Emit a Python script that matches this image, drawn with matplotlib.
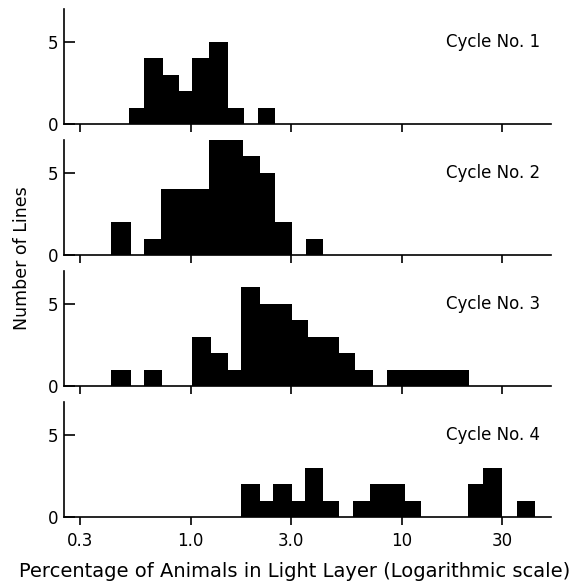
import numpy as np
import matplotlib
matplotlib.use("Agg")
import matplotlib.pyplot as plt

plt.rcParams['font.family'] = ['DejaVu Sans']

# bin edges (percentage, log scale) and number of lines per bin
edges1 = [0.51, 0.60, 0.74, 0.88, 1.02, 1.22, 1.50, 1.79, 2.09, 2.51]
counts1 = [1, 4, 3, 2, 4, 5, 1, 0, 1]

edges2 = [0.42, 0.52, 0.60, 0.72, 1.22, 1.78, 2.13, 2.51, 3.01, 3.51, 4.25]
counts2 = [2, 0, 1, 4, 7, 6, 5, 2, 0, 1]

edges3 = [0.42, 0.52, 0.60, 0.73, 1.02, 1.25, 1.50, 1.73, 2.13, 3.01, 3.59,
          5.06, 6.01, 7.34, 8.49, 20.9]
counts3 = [1, 0, 1, 0, 3, 2, 1, 6, 5, 4, 3, 2, 1, 0, 1]

edges4 = [1.73, 2.13, 2.46, 3.01, 3.48, 4.25, 5.06, 5.90, 7.08, 10.4, 12.3,
          20.7, 24.4, 29.8, 35.1, 42.8]
counts4 = [2, 1, 2, 1, 3, 1, 0, 1, 2, 1, 0, 2, 3, 0, 1]

titles = ['Cycle No. 1', 'Cycle No. 2', 'Cycle No. 3', 'Cycle No. 4']
xticks = [0.3, 1.0, 3.0, 10, 30]
xticklabels = ['0.3', '1.0', '3.0', '10', '30']

panels = [(edges1, counts1), (edges2, counts2), (edges3, counts3), (edges4, counts4)]

W, H = 587, 584
fig = plt.figure(figsize=(W / 100, H / 100), dpi=100)

left_px, right_px = 64.3, 551
baselines = [124, 255, 386, 517]
height_px = 115

for i, (edges, counts) in enumerate(panels):
    ax = fig.add_axes([left_px / W, 1 - baselines[i] / H,
                       (right_px - left_px) / W, height_px / H])
    ax.stairs(counts, edges, fill=True, color='black', baseline=0)
    ax.set_xscale('log')
    ax.set_xlim(0.252, 51)
    ax.set_ylim(0, 7)
    ax.spines['top'].set_visible(False)
    ax.spines['right'].set_visible(False)
    for s in ['left', 'bottom']:
        ax.spines[s].set_linewidth(1.2)
    ax.set_xticks(xticks)
    ax.xaxis.set_minor_locator(matplotlib.ticker.NullLocator())
    ax.set_yticks([0, 5])
    ax.set_yticklabels(['0', '5'])
    ax.tick_params(axis='x', direction='out', length=6, width=1.2, pad=5,
                   labelsize=12)
    ax.tick_params(axis='y', direction='in', length=8, width=1.2, pad=4,
                   labelsize=12)
    if i == 3:
        ax.set_xticklabels(xticklabels)
        ax.set_xlabel('Percentage of Animals in Light Layer (Logarithmic scale)',
                      fontsize=14)
        ax.xaxis.set_label_coords(0.474, -0.395)
    else:
        ax.set_xticklabels([])
    ax.text(0.977, 5, titles[i], transform=ax.get_yaxis_transform(),
            ha='right', va='center', fontsize=12)

fig.text(22 / W, 1 - 258 / H, 'Number of Lines', rotation=90,
         ha='center', va='center', fontsize=12.5)

fig.savefig('out.png', dpi=100)
